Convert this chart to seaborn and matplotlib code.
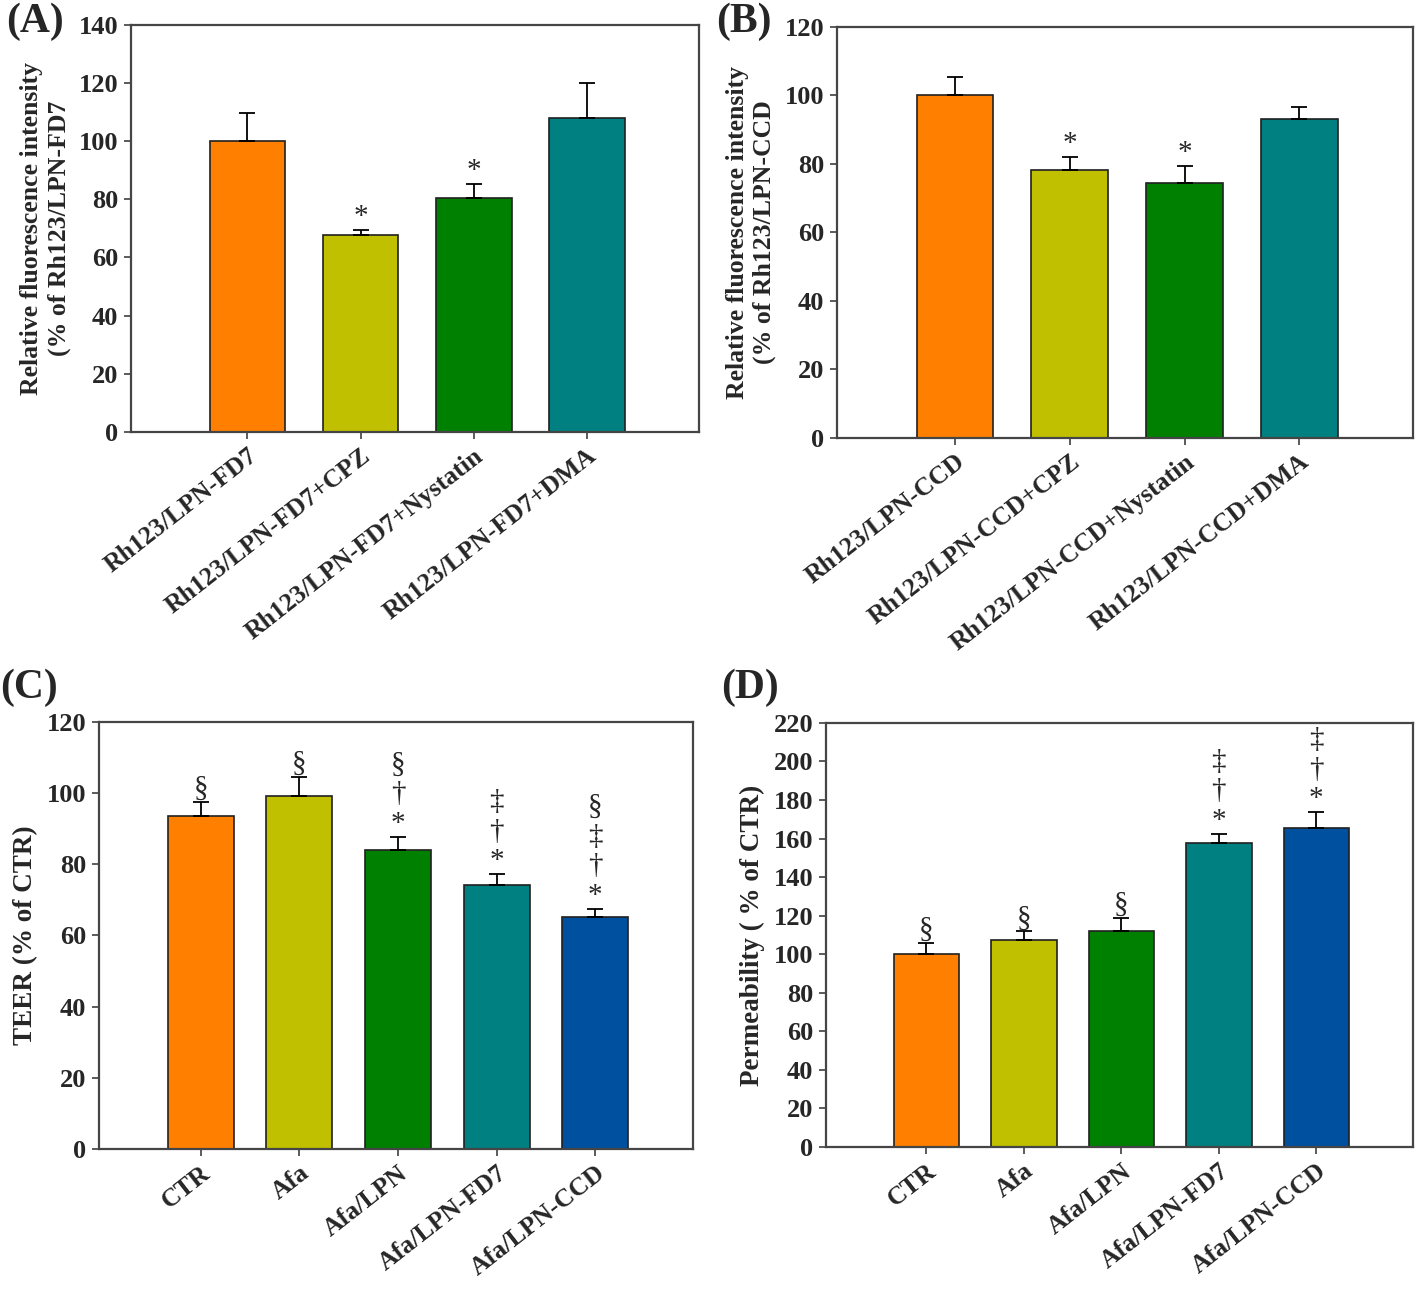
import matplotlib
matplotlib.use("Agg")
import matplotlib.pyplot as plt
import seaborn as sns
import numpy as np

# panel A
a_labels = ["Rh123/LPN-FD7", "Rh123/LPN-FD7+CPZ", "Rh123/LPN-FD7+Nystatin", "Rh123/LPN-FD7+DMA"]
a_mean = [100, 67.8, 80.6, 108]
a_err = [9.8, 1.6, 4.8, 12]
a_marks = ["", "*", "*", ""]

# panel B
b_labels = ["Rh123/LPN-CCD", "Rh123/LPN-CCD+CPZ", "Rh123/LPN-CCD+Nystatin", "Rh123/LPN-CCD+DMA"]
b_mean = [100, 78.3, 74.5, 93.1]
b_err = [5.3, 3.6, 4.8, 3.5]
b_marks = ["", "*", "*", ""]

# panels C and D
cd_labels = ["CTR", "Afa", "Afa/LPN", "Afa/LPN-FD7", "Afa/LPN-CCD"]
c_mean = [93.7, 99.2, 84.0, 74.3, 65.2]
c_err = [3.8, 5.3, 3.7, 2.9, 2.3]
c_marks = ["§", "§", "§\n†\n*", "‡\n†\n*", "§\n‡\n†\n*"]
d_mean = [100.1, 107.2, 112.0, 157.8, 165.5]
d_err = [5.6, 4.6, 6.6, 4.6, 8.2]
d_marks = ["§", "§", "§", "‡\n†\n*", "‡\n†\n*"]

colors = ["#FF8000", "#C0C000", "#008000", "#008080", "#0050A0"]

sns.set_style("ticks")
plt.rcParams['font.family'] = ['Liberation Serif', 'DejaVu Serif']

fig = plt.figure(figsize=(14.16, 12.89), dpi=100)


def bar_panel(rect, labels, mean, err, marks, ylim, ystep, ylabel, tag, tag_xy, rot, ylabel_size):
    ax = fig.add_axes(rect)
    sns.barplot(x=labels, y=mean, hue=labels, palette=colors[:len(labels)],
                width=0.67, saturation=1, edgecolor="#202020", linewidth=1.2,
                legend=False, ax=ax)
    pos = np.arange(len(labels))
    ax.errorbar(pos, mean, yerr=[np.zeros(len(err)), err], fmt="none",
                ecolor="black", elinewidth=1.3, capsize=6, capthick=1.3)
    for i, m in enumerate(marks):
        if m:
            ax.annotate(m, xy=(i, mean[i] + err[i]), xytext=(0, 0),
                        textcoords="offset points", ha="center", va="bottom",
                        fontsize=21, linespacing=1.18, multialignment="center")
    ax.set_ylim(*ylim)
    ax.set_xlim(-1.03, len(labels) - 0.01)
    ax.set_yticks(np.arange(ylim[0], ylim[1] + 1, ystep))
    ax.set_xticks(pos)
    ax.set_xticklabels(labels, rotation=rot, ha="right", rotation_mode="anchor",
                       fontsize=18.5, fontweight="bold")
    for t in ax.get_yticklabels():
        t.set_fontsize(19)
        t.set_fontweight("bold")
    ax.set_ylabel(ylabel, fontsize=ylabel_size, fontweight="bold", labelpad=6)
    ax.set_xlabel("")
    for s in ax.spines.values():
        s.set_visible(True)
        s.set_color("#454545")
        s.set_linewidth(1.6)
    ax.tick_params(axis="both", direction="out", length=5, width=1.2, color="#404040", pad=4)
    fig.text(tag_xy[0], tag_xy[1], tag, fontsize=30, fontweight="bold", va="top", ha="left")
    return ax


bar_panel([0.0925, 0.665, 0.401, 0.3157], a_labels, a_mean, a_err, a_marks, (0, 140), 20,
          "Relative fluorescence intensity\n(% of Rh123/LPN-FD7", "(A)", (0.004, 0.998), 38, 18.5)
bar_panel([0.591, 0.6604, 0.4068, 0.3189], b_labels, b_mean, b_err, b_marks, (0, 120), 20,
          "Relative fluorescence intensity\n(% of Rh123/LPN-CCD", "(B)", (0.506, 0.998), 38, 18.5)
bar_panel([0.0699, 0.1086, 0.4195, 0.3313], cd_labels, c_mean, c_err, c_marks, (0, 120), 20,
          "TEER (% of CTR)", "(C)", (0.0, 0.481), 38, 19.5)
bar_panel([0.5833, 0.1102, 0.4145, 0.329], cd_labels, d_mean, d_err, d_marks, (0, 220), 20,
          "Permeability ( % of CTR)", "(D)", (0.509, 0.481), 38, 19.5)

fig.savefig("out.png", dpi=100)
